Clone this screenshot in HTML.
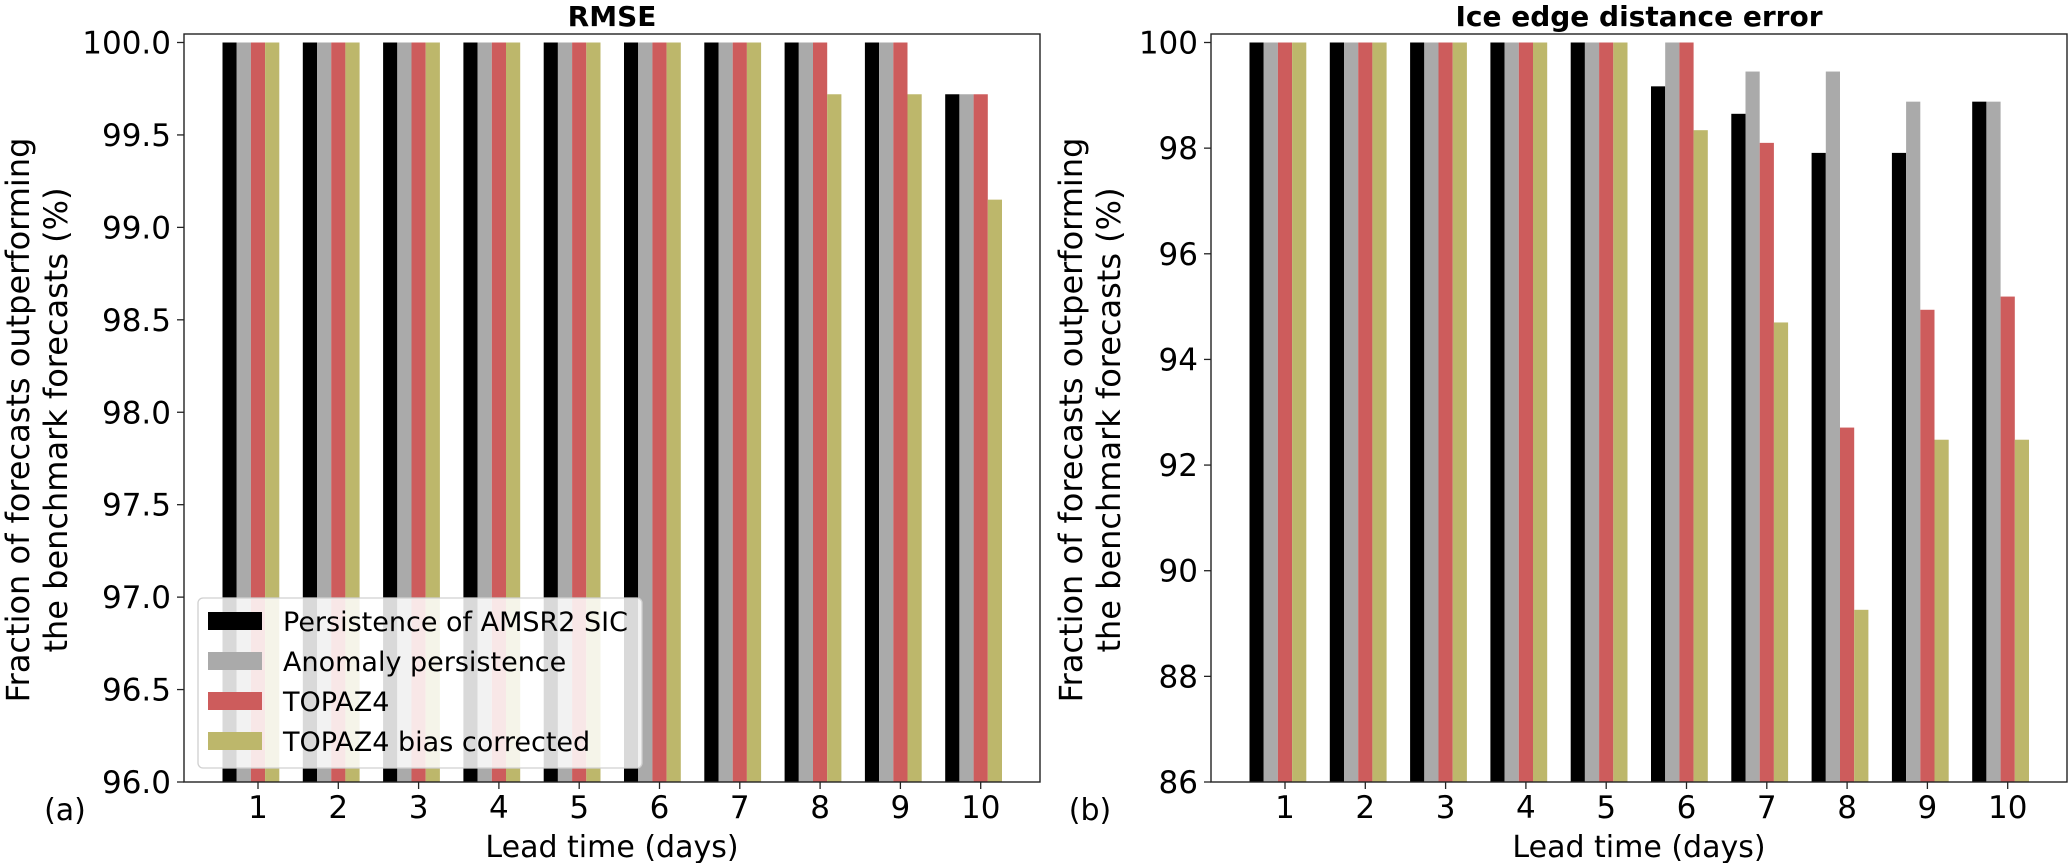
<!DOCTYPE html>
<html><head><meta charset="utf-8"><style>
html,body{margin:0;padding:0;background:#fff;}
svg{display:block;font-family:"DejaVu Sans","Liberation Sans",sans-serif;}
</style></head><body>
<svg id="fig" width="2068" height="863" viewBox="0 0 2068 863"></svg>
<script>
const categories = [1,2,3,4,5,6,7,8,9,10];
const seriesNames = ["Persistence of AMSR2 SIC","Anomaly persistence","TOPAZ4","TOPAZ4 bias corrected"];
const seriesColors = ["#000000","#aaaaaa","#cd5c5c","#bdb76b"];
// Panel (a) RMSE
const rmsePersistence = [100,100,100,100,100,100,100,100,100,99.72];
const rmseAnomaly     = [100,100,100,100,100,100,100,100,100,99.72];
const rmseTopaz       = [100,100,100,100,100,100,100,100,100,99.72];
const rmseTopazBC     = [100,100,100,100,100,100,100,99.72,99.72,99.15];
const rmseTicks = ["96.0","96.5","97.0","97.5","98.0","98.5","99.0","99.5","100.0"];
// Panel (b) Ice edge distance error
const iceSeriesPersistence = [100,100,100,100,100,99.17,98.65,97.91,97.91,98.88];
const iceAnomaly           = [100,100,100,100,100,100,99.45,99.45,98.88,98.88];
const iceTopaz             = [100,100,100,100,100,100,98.1,92.71,94.94,95.19];
const iceTopazBC           = [100,100,100,100,100,98.34,94.7,89.26,92.48,92.48];
const iceTicks = ["86","88","90","92","94","96","98","100"];

const NS="http://www.w3.org/2000/svg";
const svg=document.getElementById('fig');
function mk(tag,attrs,parent){const e=document.createElementNS(NS,tag);for(const k in attrs)e.setAttribute(k,attrs[k]);(parent||svg).appendChild(e);return e;}

function panel(opt){
  const g=mk('g',{});
  
  
  const L=opt.x0,T=34,B=782;
  const ymin=opt.ymin,ymax=opt.ymax;
  const yTop=42.5;
  const ys=v=>B-(v-ymin)/(ymax-ymin)*(B-yTop);
  const spacing=80.3, w=14.2;
  const xs=c=>L+74+(c-1)*spacing;
  opt.series.forEach((arr,si)=>{
    arr.forEach((v,i)=>{
      const cx=xs(categories[i])+(si-2)*w;
      const y=ys(v);
      const r=mk('rect',{x:cx-w/2,y:y,width:w,height:B-y,fill:seriesColors[si]},g);
      
      
    });
  });
  const frame=mk('rect',{x:L,y:T,width:856,height:B-T,fill:'none',stroke:'#222','stroke-width':1.4},g);
  
  
  opt.ticks.forEach(t=>{
    const y=ys(parseFloat(t));
    mk('line',{x1:L-7,x2:L,y1:y,y2:y,stroke:'#222','stroke-width':1.3},g);
    const tx=mk('text',{x:L-13,y:y+11,'text-anchor':'end','font-size':31,fill:'#000'},g);
    tx.textContent=t;
    
    
  });
  categories.forEach(c=>{
    const x=xs(c);
    mk('line',{x1:x,x2:x,y1:B,y2:B+7,stroke:'#222','stroke-width':1.3},g);
    const tx=mk('text',{x:x,y:818,'text-anchor':'middle','font-size':31,fill:'#000'},g);
    tx.textContent=c;
    
    
  });
  const title=mk('text',{x:L+428,y:26,'text-anchor':'middle','font-size':28,'font-weight':'bold',fill:'#000'},g);
  title.textContent=opt.title;
  
  
  const xl=mk('text',{x:L+428,y:857,'text-anchor':'middle','font-size':30,fill:'#000'},g);
  xl.textContent='Lead time (days)';
  
  
  const yl=mk('text',{transform:'translate('+opt.ylx+',420) rotate(-90)','text-anchor':'middle','font-size':32,fill:'#000'},g);
  
  
  const t1=mk('tspan',{x:0,y:0},yl); t1.textContent='Fraction of forecasts outperforming';
  const t2=mk('tspan',{x:0,y:38},yl); t2.textContent='the benchmark forecasts (%)';
  const pl=mk('text',{x:opt.plx,y:820,'text-anchor':'middle','font-size':30,fill:'#000'},g);
  pl.textContent=opt.panelLabel;
  
  
}

panel({name:'rmse-panel',key:'rmse',x0:184,ymin:96,ymax:100,ticks:rmseTicks,title:'RMSE',ylx:29,plx:65,panelLabel:'(a)',
  series:[rmsePersistence,rmseAnomaly,rmseTopaz,rmseTopazBC]});
panel({name:'ice-edge-panel',key:'ice',x0:1211,ymin:86,ymax:100,ticks:iceTicks,title:'Ice edge distance error',ylx:1082,plx:1090,panelLabel:'(b)',
  series:[iceSeriesPersistence,iceAnomaly,iceTopaz,iceTopazBC]});

// legend
const lg=mk('g',{});


mk('rect',{x:198,y:598,width:444,height:170,rx:5,fill:'#fff','fill-opacity':0.85,stroke:'#d0d0d0','stroke-width':1.3},lg);
seriesNames.forEach((n,i)=>{
  const cy=621+i*40;
  const p=mk('rect',{x:208,y:cy-9,width:54,height:18,fill:seriesColors[i]},lg);
  
  
  const t=mk('text',{x:283,y:cy+10,'font-size':27,fill:'#000'},lg);
  t.textContent=n;
  
  
});
</script>
</body></html>
